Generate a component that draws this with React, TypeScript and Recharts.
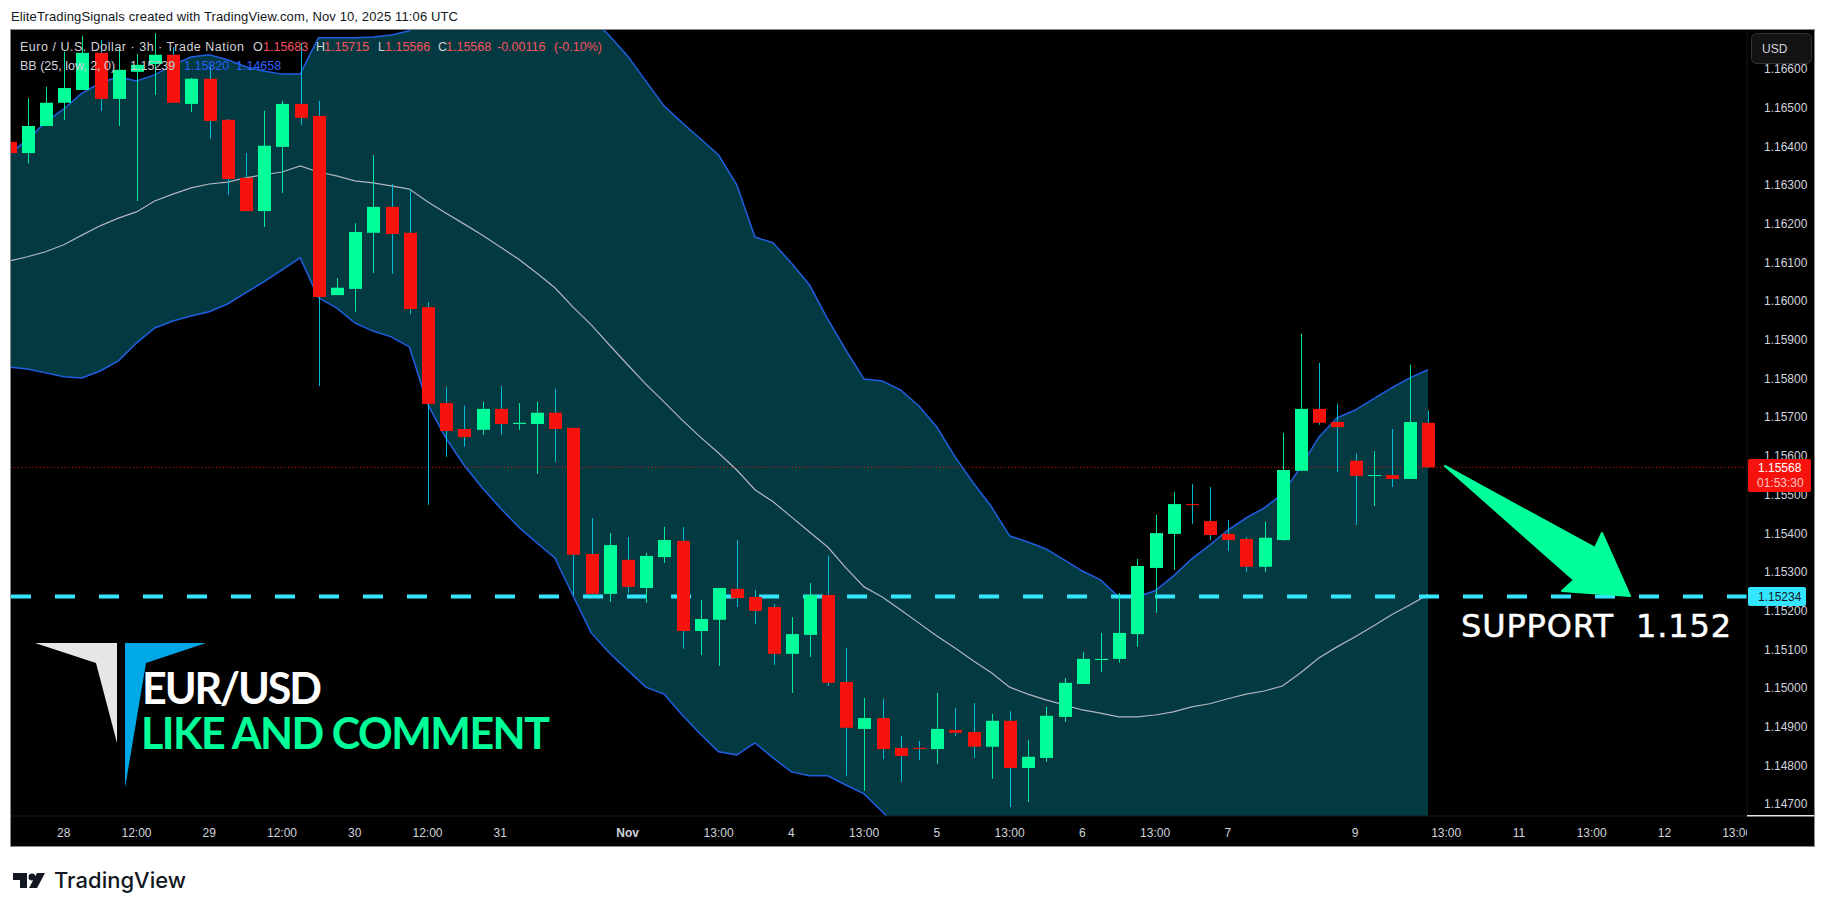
import { Area, Bar, ComposedChart, Line, ReferenceLine, XAxis, YAxis } from 'recharts';

// EURUSD 3h candles
const opens = [
  1.16409, 1.1638, 1.1645, 1.1651, 1.16543, 1.16639, 1.1652, 1.1659, 1.1661, 1.16634,
  1.16507, 1.16572, 1.16466, 1.16316, 1.1623, 1.16396, 1.16507, 1.16476, 1.16013, 1.16029,
  1.16174, 1.16241, 1.16174, 1.15982, 1.15734, 1.15667, 1.15665, 1.15719, 1.1568, 1.1568,
  1.15709, 1.1567, 1.15344, 1.15241, 1.15329, 1.15256, 1.15336, 1.15378, 1.15145, 1.15174,
  1.15254, 1.15233, 1.15207, 1.15086, 1.15135, 1.15238, 1.15013, 1.14892, 1.1492, 1.14843,
  1.14843, 1.1484, 1.14889, 1.14884, 1.14846, 1.14913, 1.14791, 1.14817, 1.14923, 1.15008,
  1.1507, 1.15073, 1.15137, 1.15308, 1.15396, 1.15473, 1.15429, 1.15396, 1.15383, 1.15311,
  1.1538, 1.15559, 1.15719, 1.15685, 1.15585, 1.15546, 1.15548, 1.15538, 1.15683,
];
const highs = [
  1.16409, 1.16522, 1.16551, 1.16642, 1.16683, 1.16672, 1.16652, 1.16636, 1.1669, 1.16654,
  1.16574, 1.16603, 1.16468, 1.1638, 1.16489, 1.16515, 1.16665, 1.16515, 1.16057, 1.16199,
  1.16375, 1.163, 1.16285, 1.15995, 1.15776, 1.15727, 1.15737, 1.15778, 1.15734, 1.15737,
  1.15771, 1.1567, 1.15437, 1.15398, 1.15388, 1.15347, 1.15414, 1.15414, 1.15225, 1.15256,
  1.1538, 1.15251, 1.15215, 1.15181, 1.15269, 1.15339, 1.15101, 1.14972, 1.1497, 1.14874,
  1.14861, 1.14985, 1.14946, 1.14959, 1.14931, 1.14938, 1.14864, 1.14949, 1.15024, 1.15091,
  1.1514, 1.15243, 1.15331, 1.15445, 1.15504, 1.15525, 1.15517, 1.15432, 1.15388, 1.15427,
  1.15657, 1.15913, 1.15838, 1.15732, 1.15603, 1.1561, 1.15667, 1.15833, 1.15715,
];
const lows = [
  1.1638, 1.16353, 1.1645, 1.16466, 1.16543, 1.16489, 1.1645, 1.16256, 1.1653, 1.1651,
  1.16486, 1.16417, 1.16272, 1.1623, 1.16189, 1.16277, 1.16453, 1.15778, 1.16013, 1.1597,
  1.1607, 1.16068, 1.15964, 1.15471, 1.15595, 1.15621, 1.15652, 1.15652, 1.15665, 1.15551,
  1.15582, 1.15238, 1.15236, 1.1522, 1.15243, 1.15218, 1.15321, 1.15099, 1.15083, 1.15055,
  1.15207, 1.15163, 1.15057, 1.14985, 1.15078, 1.15003, 1.14771, 1.14732, 1.14814, 1.14755,
  1.14812, 1.14802, 1.14874, 1.14817, 1.14763, 1.1469, 1.14703, 1.14807, 1.1491, 1.15008,
  1.15039, 1.15063, 1.15104, 1.15192, 1.15303, 1.15422, 1.1538, 1.15352, 1.15298, 1.15298,
  1.15378, 1.15559, 1.15678, 1.15556, 1.15419, 1.15468, 1.15517, 1.15538, 1.15566,
];
const closes = [
  1.1638, 1.1645, 1.1651, 1.16548, 1.16639, 1.1652, 1.16595, 1.16608, 1.16634, 1.1651,
  1.16572, 1.16463, 1.16313, 1.1623, 1.16399, 1.16507, 1.16471, 1.16008, 1.16032, 1.16176,
  1.16241, 1.16171, 1.15977, 1.15732, 1.15662, 1.15646, 1.15719, 1.1568, 1.15683, 1.15709,
  1.15667, 1.15342, 1.15241, 1.15367, 1.15259, 1.15339, 1.1538, 1.15145, 1.15176, 1.15256,
  1.1523, 1.15197, 1.15086, 1.15137, 1.15238, 1.15011, 1.14895, 1.1492, 1.1484, 1.14822,
  1.1484, 1.14892, 1.14882, 1.14846, 1.14913, 1.14791, 1.1482, 1.14926, 1.15011, 1.15073,
  1.15073, 1.1514, 1.15313, 1.15398, 1.15473, 1.15471, 1.15393, 1.1538, 1.15311, 1.15386,
  1.15561, 1.15719, 1.15683, 1.15672, 1.15546, 1.15548, 1.15538, 1.15685, 1.15568,
];

// Bollinger bands (25, low, 2, 0). Parts outside the visible pane are estimates
const bbUpper = [
  1.16378, 1.16414, 1.1646, 1.16494, 1.16535, 1.16561, 1.16577, 1.16566, 1.16582, 1.16608,
  1.16628, 1.16634, 1.16621, 1.16603, 1.16592, 1.16584, 1.16584, 1.16678, 1.16678, 1.16678,
  1.1668, 1.16685, 1.16696, 1.16776, 1.16807, 1.1682, 1.16822, 1.16812, 1.16799, 1.16768,
  1.16729, 1.16729, 1.16732, 1.16683, 1.16631, 1.16566, 1.16502, 1.16458, 1.16417, 1.16375,
  1.16298, 1.16163, 1.16148, 1.16096, 1.16039, 1.15951, 1.15871, 1.15796, 1.15791, 1.15768,
  1.15727, 1.15672, 1.15595, 1.15528, 1.15466, 1.15391, 1.15375, 1.15357, 1.15329, 1.153,
  1.15277, 1.15233, 1.15233, 1.15249, 1.15287, 1.15331, 1.15367, 1.15406, 1.15437, 1.15463,
  1.15499, 1.15569, 1.15646, 1.15696, 1.15716, 1.15745, 1.15773, 1.15799, 1.1582,
];
const bbBasis = [
  1.16101, 1.16112, 1.16125, 1.16143, 1.16168, 1.16192, 1.16212, 1.16228, 1.16256, 1.16274,
  1.1629, 1.163, 1.16305, 1.16316, 1.16324, 1.16331, 1.16347, 1.16331, 1.16321, 1.16308,
  1.16303, 1.16295, 1.16287, 1.16254, 1.16225, 1.16197, 1.16168, 1.16137, 1.16106, 1.1607,
  1.16032, 1.15982, 1.15936, 1.15884, 1.15833, 1.15783, 1.15737, 1.1569, 1.15646, 1.15605,
  1.15561, 1.1551, 1.15479, 1.1544, 1.15401, 1.15362, 1.15308, 1.15259, 1.15233, 1.152,
  1.15166, 1.15132, 1.15101, 1.15068, 1.15037, 1.15, 1.14982, 1.14967, 1.14954, 1.14941,
  1.14933, 1.14923, 1.14923, 1.14928, 1.14936, 1.14949, 1.14957, 1.1497, 1.14982, 1.1499,
  1.15003, 1.15037, 1.15075, 1.15104, 1.1513, 1.15158, 1.15187, 1.15212, 1.15239,
];
const bbLower = [
  1.15827, 1.15822, 1.15812, 1.15802, 1.15799, 1.15817, 1.15843, 1.15889, 1.15928, 1.15946,
  1.15959, 1.1597, 1.1599, 1.16019, 1.16047, 1.16078, 1.16109, 1.16006, 1.1598, 1.15941,
  1.1592, 1.15905, 1.15879, 1.15732, 1.15644, 1.15574, 1.15515, 1.15463, 1.15414, 1.15373,
  1.15334, 1.15236, 1.1514, 1.15088, 1.15044, 1.15, 1.14982, 1.14928, 1.14879, 1.14833,
  1.14825, 1.14856, 1.14817, 1.14781, 1.14771, 1.14771, 1.14747, 1.14724, 1.14678, 1.14631,
  1.14605, 1.14592, 1.14608, 1.14608, 1.14608, 1.1461, 1.1459, 1.14577, 1.14579, 1.14582,
  1.1459, 1.14613, 1.14613, 1.14608, 1.14585, 1.14566, 1.14546, 1.14533, 1.14528, 1.14517,
  1.14507, 1.14504, 1.14504, 1.14512, 1.14543, 1.14571, 1.146, 1.14626, 1.14658,
];

const priceTicks = [
  1.147, 1.148, 1.149, 1.15, 1.151, 1.152, 1.153, 1.154, 1.155, 1.156, 1.157, 1.158, 1.159,
  1.16, 1.161, 1.162, 1.163, 1.164, 1.165, 1.166,
];
const timeTicks = [3, 7, 11, 15, 19, 23, 27, 34, 39, 43, 47, 51, 55, 59, 63, 67, 74, 79, 83, 87, 91, 95];
const timeLabels = [
  '28', '12:00', '29', '12:00', '30', '12:00', '31', 'Nov', '13:00', '4', '13:00', '5', '13:00',
  '6', '13:00', '7', '9', '13:00', '11', '13:00', '12', '13:00',
];

const LAST_PRICE = 1.15568;
const SUPPORT_PRICE = 1.15234;

const GREEN = '#00ff99';
const RED = '#f7130d';
const AXIS_TEXT = '#d1d4dc';
const SANS = '"Liberation Sans", Arial, sans-serif';

const chartData = opens.map((open, i) => ({
  i,
  open,
  high: highs[i],
  low: lows[i],
  close: closes[i],
  upper: bbUpper[i],
  basis: bbBasis[i],
  lower: bbLower[i],
}));

function Candle({ x, y, width, height, payload }: any) {
  const { open, high, low, close } = payload;
  const up = close >= open;
  const span = high - low || 1;
  const top = y + ((high - Math.max(open, close)) / span) * height;
  const bodyHeight = (Math.abs(open - close) / span) * height;
  const mid = Math.round(x + width / 2);
  return (
    <g>
      <rect x={mid} y={y} width={1} height={height} fill={up ? '#00e89a' : '#00bcd4'} />
      <rect x={mid - 6} y={top} width={13} height={Math.max(bodyHeight, 1)} fill={up ? GREEN : RED} />
    </g>
  );
}

function TimeTick({ x, y, payload }: any) {
  const label = timeLabels[timeTicks.indexOf(payload.value)];
  return (
    <text
      x={x}
      y={y + 20}
      dy={-7}
      textAnchor="middle"
      fontFamily={SANS}
      fontSize={12}
      fontWeight={label === 'Nov' ? 700 : 400}
      fill={AXIS_TEXT}
      clipPath="url(#timeAxisClip)"
    >
      {label}
    </text>
  );
}

// status line on top of the pane
const legendRow = [
  { text: 'Euro / U.S. Dollar · 3h · Trade Nation', x: 20, w: 224, fill: AXIS_TEXT },
  { text: 'O', x: 253, fill: AXIS_TEXT },
  { text: '1.15683', x: 263, fill: '#f7525f' },
  { text: 'H', x: 316, fill: AXIS_TEXT },
  { text: '1.15715', x: 324, fill: '#f7525f' },
  { text: 'L', x: 378, fill: AXIS_TEXT },
  { text: '1.15566', x: 385, fill: '#f7525f' },
  { text: 'C', x: 438, fill: AXIS_TEXT },
  { text: '1.15568', x: 446, fill: '#f7525f' },
  { text: '-0.00116', x: 497, fill: '#f7525f' },
  { text: '(-0.10%)', x: 554, fill: '#f7525f' },
];
const bbRow = [
  { text: 'BB (25, low, 2, 0)', x: 20, fill: AXIS_TEXT },
  { text: '1.15239', x: 130, fill: '#c8ccd4' },
  { text: '1.15820', x: 184, fill: '#2962ff' },
  { text: '1.14658', x: 236, fill: '#2962ff' },
];

function Overlay() {
  return (
    <svg width={1826} height={913} style={{ position: 'absolute', left: 0, top: 0, pointerEvents: 'none' }}>
      <text x={11} y={21} fontFamily={SANS} fontSize={13} fill="#131722" textLength={447}>
        EliteTradingSignals created with TradingView.com, Nov 10, 2025 11:06 UTC
      </text>

      {legendRow.map((t) => (
        <text key={t.x} x={t.x} y={51} fontFamily={SANS} fontSize={12.5} fill={t.fill} textLength={t.w}>
          {t.text}
        </text>
      ))}
      {bbRow.map((t) => (
        <text key={t.x} x={t.x} y={70} fontFamily={SANS} fontSize={12.5} fill={t.fill}>
          {t.text}
        </text>
      ))}

      {/* currency button */}
      <rect x={1751.5} y={33.5} width={60} height={30} rx={5} fill="#131313" stroke="#333" />
      <text x={1762} y={53} fontFamily={SANS} fontSize={12} fill={AXIS_TEXT}>
        USD
      </text>

      {/* price tags */}
      <rect x={1748} y={459} width={63} height={33} rx={2} fill={RED} />
      <text x={1758} y={472} fontFamily={SANS} fontSize={12} fill="#ffffff">
        1.15568
      </text>
      <text x={1757} y={487} fontFamily={SANS} fontSize={12} fill="#ffc4c0">
        01:53:30
      </text>
      <rect x={1748} y={587} width={58} height={19} rx={2} fill="#33e5ff" />
      <text x={1758} y={601} fontFamily={SANS} fontSize={12} fill="#131722">
        1.15234
      </text>
      <rect x={1747} y={815} width={67} height={1.5} fill="#e6e6e6" />

      {/* arrow */}
      <polygon
        points="1445,466 1595,548 1602,533 1630,596 1562,591 1574,580"
        fill={GREEN}
        stroke={GREEN}
        strokeWidth={2}
        strokeLinejoin="round"
      />
      <text
        x={1461}
        y={637}
        fontFamily='"DejaVu Sans", sans-serif'
        fontSize={32}
        fill="#ffffff"
        stroke="#ffffff"
        strokeWidth={0.5}
        textLength={270}
        style={{ whiteSpace: 'pre' }}
      >
        SUPPORT  1.152
      </text>

      {/* logo block */}
      <polygon points="35,643 117,643 117,743 96,663" fill="#e6e6e6" />
      <polygon points="125,643 206,643 146,663 125,788" fill="#00a8e8" />
      <text x={142} y={704} fontFamily="Lato, sans-serif" fontSize={43} fontWeight={700} fill="#ffffff" textLength={180}>
        EUR/USD
      </text>
      <text x={141} y={749} fontFamily="Lato, sans-serif" fontSize={43} fontWeight={700} fill={GREEN} textLength={409}>
        LIKE AND COMMENT
      </text>

      {/* footer */}
      <polygon points="13,873 27,873 27,888 20,888 20,880 13,880" fill="#131722" />
      <circle cx={32} cy={877} r={3.5} fill="#131722" />
      <polygon points="37,873 45,873 37,888 29,888" fill="#131722" />
      <text x={54} y={888} fontFamily="Inter, sans-serif" fontSize={22} fontWeight={500} fill="#131722" textLength={132}>
        TradingView
      </text>
    </svg>
  );
}

export default function App() {
  return (
    <div style={{ position: 'absolute', left: 0, top: 0, width: 1826, height: 913, background: '#fff' }}>
      <div style={{ position: 'absolute', left: 10, top: 29, border: '1px solid #8a8a8a', background: '#000' }}>
        <ComposedChart width={1803} height={816} data={chartData} margin={{ top: 0, right: 0, bottom: 0, left: 0 }}>
          <defs>
            <clipPath id="timeAxisClip">
              <rect x={0} y={786} width={1736} height={30} />
            </clipPath>
          </defs>
          <XAxis
            dataKey="i"
            type="number"
            scale="linear"
            domain={[0.1, 95.54]}
            allowDataOverflow
            ticks={timeTicks}
            interval={0}
            height={30}
            tickLine={false}
            axisLine={{ stroke: '#161616' }}
            tick={<TimeTick />}
          />
          <YAxis
            orientation="right"
            type="number"
            domain={[1.14667, 1.16698]}
            allowDataOverflow
            ticks={priceTicks}
            interval={0}
            width={67}
            tickLine={false}
            axisLine={{ stroke: '#161616' }}
            tickMargin={11}
            tick={{ fill: AXIS_TEXT, fontSize: 12, fontFamily: SANS, dy: 1 }}
            tickFormatter={(v: number) => v.toFixed(5)}
          />
          <Area
            dataKey={(d: any) => [d.lower, d.upper]}
            stroke="none"
            fill="#033a42"
            fillOpacity={1}
            dot={false}
            activeDot={false}
            isAnimationActive={false}
          />
          <Line dataKey="basis" stroke="#b2b5be" strokeWidth={1.2} dot={false} isAnimationActive={false} />
          <Line dataKey="upper" stroke="#1f5fe0" strokeWidth={1.5} dot={false} isAnimationActive={false} />
          <Line dataKey="lower" stroke="#1f5fe0" strokeWidth={1.5} dot={false} isAnimationActive={false} />
          <ReferenceLine y={LAST_PRICE} stroke={RED} strokeWidth={1} strokeDasharray="1 2.6" />
          <ReferenceLine y={SUPPORT_PRICE} stroke="#33e5ff" strokeWidth={4} strokeDasharray="20 24" />
          <Bar
            dataKey={(d: any) => [d.low, d.high]}
            barSize={13}
            shape={<Candle />}
            zIndex={1000}
            isAnimationActive={false}
          />
        </ComposedChart>
      </div>
      <Overlay />
    </div>
  );
}
